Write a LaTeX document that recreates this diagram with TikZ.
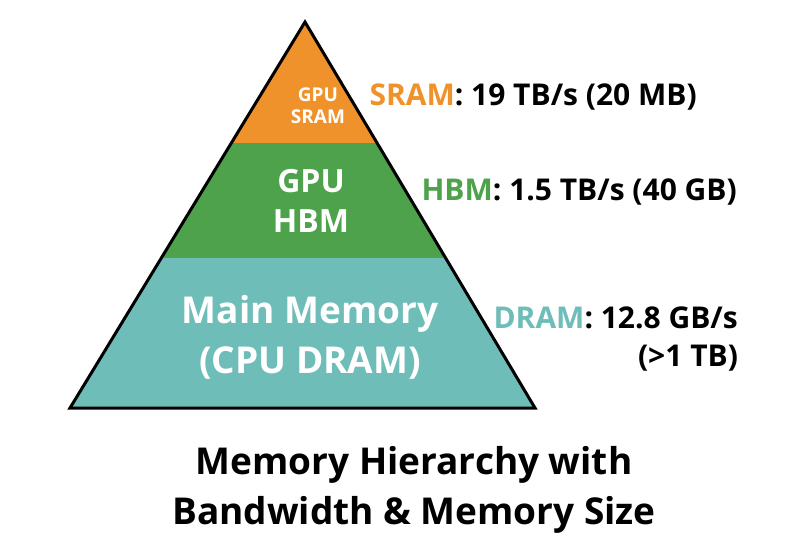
\documentclass[tikz,border=0pt]{standalone}
\usepackage{fontspec}
\setmainfont{Open Sans}
\definecolor{sramorange}{HTML}{F0922B}
\definecolor{hbmgreen}{HTML}{4EA24C}
\definecolor{dramteal}{HTML}{6FBDB8}
\begin{document}
\begin{tikzpicture}[
		x=1pt, y=-1pt,
		inlabel/.style={text=white, font=\bfseries, align=center},
		outlabel/.style={anchor=west, font=\bfseries\fontsize{30}{32}\selectfont},
		caption/.style={font=\bfseries\fontsize{37}{50}\selectfont, align=center}
		]
		\useasboundingbox (0,0) rectangle (808,543);
		
		% Layers of the pyramid
		\begin{scope}
			\clip (305,22) -- (535,408) -- (70,408) -- cycle;
			\fill[dramteal] (0,258) rectangle (808,408);
			\fill[hbmgreen] (0,143) rectangle (808,258);
			\fill[sramorange] (0,0) rectangle (808,143);
		\end{scope}
		\draw[line width=3pt, line join=miter] (305,22) -- (535,408) -- (70,408) -- cycle;
		
		% Labels inside
		\node[inlabel, font=\bfseries\fontsize{19}{22}\selectfont] (sram) at (318,106) {GPU\\SRAM};
		\node[inlabel, font=\bfseries\fontsize{32}{40}\selectfont] (hbm) at (311,201) {GPU\\HBM};
		\node[inlabel, font=\bfseries\fontsize{37}{50}\selectfont] (dram) at (310,337) {Main Memory\\(CPU DRAM)};
		
		% Bandwidth labels
		\node[outlabel] (sramtxt) at (366,97) {\textcolor{sramorange}{SRAM}: 19 TB/s (20 MB)};
		\node[outlabel] (hbmtxt) at (418,192) {\textcolor{hbmgreen}{HBM}: 1.5 TB/s (40 GB)};
		\node[outlabel] (dramtxt) at (490,318) {\textcolor{dramteal}{DRAM}: 12.8 GB/s};
		\node[font=\bfseries\fontsize{30}{32}\selectfont] (dramsize) at (688,358) {(>1 TB)};
		
		% Caption
		\node[caption] (title) at (414,490) {Memory Hierarchy with\\Bandwidth \& Memory Size};
		
	\end{tikzpicture}
\end{document}
